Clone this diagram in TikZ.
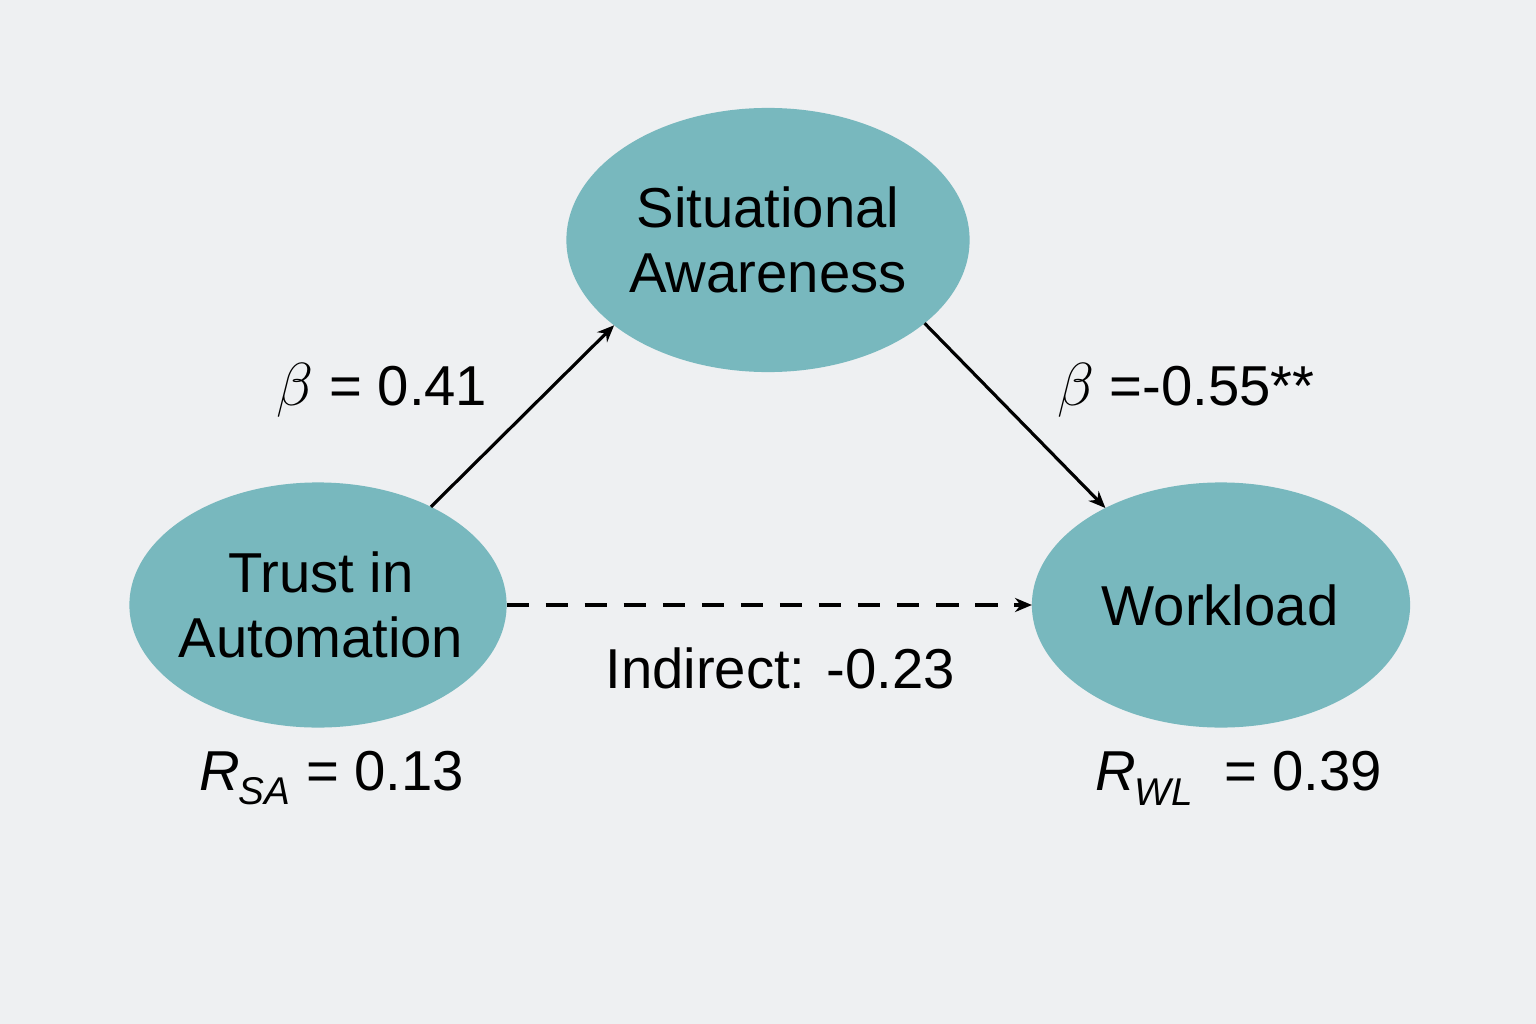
\documentclass[tikz,border=0pt]{standalone}
\usepackage{fontspec}
\setmainfont{Liberation Sans}
\usetikzlibrary{shapes.geometric,arrows.meta}
\definecolor{bg}{HTML}{EEF0F2}
\definecolor{ellfill}{HTML}{78B8BE}
\tikzset{
  var/.style={ellipse, fill=ellfill, draw=none, inner sep=0pt, outer sep=0pt},
  vartext/.style={align=center, inner sep=0pt, font=\fontsize{16}{18.5}\selectfont},
  lbl/.style={font=\fontsize{16}{18.5}\selectfont, inner sep=0pt},
  path/.style={line width=0.9pt, -{Stealth[length=4.8pt,width=4pt]}}
}
\newcommand{\Rsub}[1]{{\itshape R\kern-0.5pt\raisebox{-0.5ex}{\fontsize{11}{11}\selectfont #1}}}
\begin{document}
\begin{tikzpicture}[x=0.01cm,y=-0.01cm]
\fill[bg] (0,0) rectangle (1536,1024);
\useasboundingbox (0,0) rectangle (1536,1024);
\node[var, minimum width=4.03cm, minimum height=2.64cm] (sa) at (768,240) {};
\node[vartext] (satext) at (768,240) {Situational\\Awareness};
\node[var, minimum width=3.77cm, minimum height=2.45cm] (ta) at (318,605) {};
\node[vartext] (tatext) at (321,605) {Trust in\\Automation};
\node[var, minimum width=3.78cm, minimum height=2.45cm] (wl) at (1221,605) {};
\node[vartext] (wltext) at (1220,605) {Workload};
\draw[path] (ta.41) -- (sa.-151.5);
\draw[path] (sa.-28.8) -- (wl.140);
\draw[path, dash pattern=on 6.4pt off 4.7pt] (ta.east) -- (wl.west);
\node[lbl] (b1) at (382,390) {$\beta$ = 0.41};
\node[lbl] (b2) at (1186,390) {$\beta$ =-0.55**};
\node[lbl] (ind) at (780,668) {Indirect: -0.23};
\node[lbl] (rsa) at (332,778) {\Rsub{SA} = 0.13};
\node[lbl] (rwl) at (1239,778) {\Rsub{WL}\ \ = 0.39};
\end{tikzpicture}
\end{document}
